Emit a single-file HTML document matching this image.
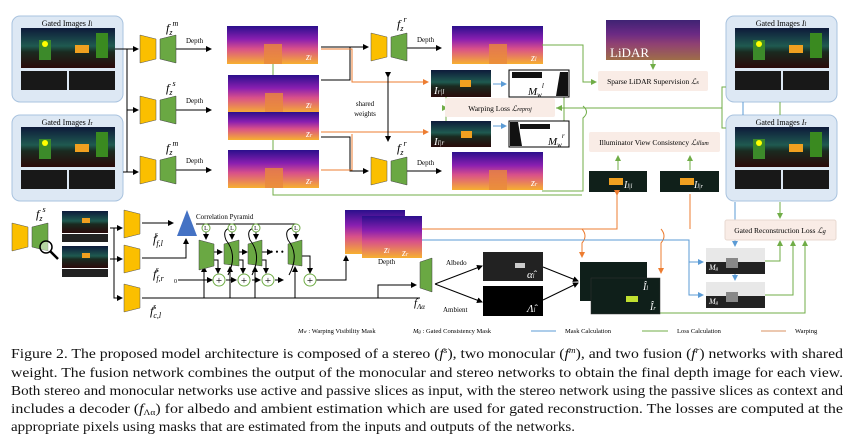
<!DOCTYPE html>
<html><head><meta charset="utf-8"><style>
html,body{margin:0;padding:0;background:#fff;}
svg{display:block;font-family:"Liberation Serif",serif;}
</style></head><body>
<svg width="854" height="444" viewBox="0 0 854 444" xmlns="http://www.w3.org/2000/svg">
<defs>
<linearGradient id="dp" x1="0" y1="0" x2="0" y2="1">
<stop offset="0" stop-color="#2b0f8c"/><stop offset="0.35" stop-color="#8a1fb0"/><stop offset="0.6" stop-color="#d8508a"/><stop offset="1" stop-color="#f7b030"/></linearGradient>
<linearGradient id="sc" x1="0" y1="0" x2="0" y2="1">
<stop offset="0" stop-color="#0d1a3a"/><stop offset="0.45" stop-color="#1f5a50"/><stop offset="0.6" stop-color="#1a2a20"/><stop offset="1" stop-color="#2a0a0a"/></linearGradient>
<marker id="ak" markerWidth="6" markerHeight="6" refX="5" refY="3" orient="auto"><path d="M0,0 L6,3 L0,6z" fill="#000"/></marker>
<marker id="ag" markerWidth="6" markerHeight="6" refX="5" refY="3" orient="auto"><path d="M0,0 L6,3 L0,6z" fill="#70ad47"/></marker>
<marker id="ab" markerWidth="6" markerHeight="6" refX="5" refY="3" orient="auto"><path d="M0,0 L6,3 L0,6z" fill="#5b9bd5"/></marker>
<marker id="ao" markerWidth="6" markerHeight="6" refX="5" refY="3" orient="auto"><path d="M0,0 L6,3 L0,6z" fill="#ed7d31"/></marker>
<g id="scene"><rect width="94" height="40" fill="url(#sc)"/><rect x="18" y="12" width="12" height="20" fill="#3c8a2a"/><circle cx="24" cy="16" r="3" fill="#ff0"/><rect x="54" y="17" width="14" height="8" fill="#f0a020"/><rect x="75" y="5" width="12" height="25" fill="#3a8a20"/></g>
<g id="small"><rect width="46" height="19" fill="#181818"/><rect x="48" width="46" height="19" fill="#181818"/></g>
<g id="gbox"><rect x="0" y="0" width="111" height="86" rx="8" fill="#dde8f4" stroke="#a9c3df"/><use href="#scene" x="9" y="12"/><use href="#small" x="9" y="55"/></g>
<g id="enc"><path d="M0,0 L16,4 L16,24 L0,28z" fill="#fbbf00" stroke="#555" stroke-width="0.5"/><path d="M20,4 L36,0 L36,28 L20,24z" fill="#6aa843" stroke="#444" stroke-width="0.5"/></g>
<g id="dmap"><rect width="91" height="38" fill="url(#dp)"/><rect x="37" y="18" width="18" height="20" fill="#e8883c" opacity=".8"/></g>
</defs>

<use href="#gbox" x="12" y="16"/><text x="67" y="26" font-size="8" text-anchor="middle">Gated Images <tspan font-style="italic">I</tspan><tspan font-size="6">l</tspan></text>
<use href="#gbox" x="12" y="115"/><text x="67" y="125" font-size="8" text-anchor="middle">Gated Images <tspan font-style="italic">I</tspan><tspan font-size="6">r</tspan></text>
<use href="#gbox" x="726" y="16"/><text x="781" y="26" font-size="8" text-anchor="middle">Gated Images <tspan font-style="italic">I</tspan><tspan font-size="6">l</tspan></text>
<use href="#gbox" x="726" y="115"/><text x="781" y="125" font-size="8" text-anchor="middle">Gated Images <tspan font-style="italic">I</tspan><tspan font-size="6">r</tspan></text>

<g stroke="#000" stroke-width="1" fill="none">
<path d="M115,49 H127 V172"/><path d="M127,49 H138" marker-end="url(#ak)"/><path d="M127,110 H138" marker-end="url(#ak)"/><path d="M123,172 H138" marker-end="url(#ak)"/>
<path d="M176,49 H211" marker-end="url(#ak)"/><path d="M176,110 H211" marker-end="url(#ak)"/><path d="M176,170 H211" marker-end="url(#ak)"/>
</g>
<use href="#enc" x="140" y="35"/><use href="#enc" x="140" y="96"/><use href="#enc" x="140" y="156"/>
<g font-size="12" font-style="italic"><text x="166" y="32">f<tspan font-size="8" dy="3">z</tspan><tspan font-size="8" dy="-9">m</tspan></text>
<text x="166" y="92">f<tspan font-size="8" dy="3">z</tspan><tspan font-size="8" dy="-9">s</tspan></text>
<text x="166" y="152">f<tspan font-size="8" dy="3">z</tspan><tspan font-size="8" dy="-9">m</tspan></text></g>
<g font-size="7"><text x="186" y="43">Depth</text><text x="186" y="103">Depth</text><text x="186" y="163">Depth</text></g>

<line x1="273" y1="64" x2="273" y2="76" stroke="#70ad47"/>
<line x1="273" y1="140" x2="273" y2="150" stroke="#70ad47"/>
<use href="#dmap" x="227" y="26"/><use href="#dmap" x="228" y="75"/><rect x="228" y="112" width="91" height="28" fill="url(#dp)"/><use href="#dmap" x="228" y="150"/>
<g fill="#fff" font-size="10" font-style="italic"><text x="306" y="60">z<tspan font-size="6">l</tspan></text><text x="306" y="108">z<tspan font-size="6">l</tspan></text><text x="306" y="137">z<tspan font-size="6">r</tspan></text><text x="306" y="184">z<tspan font-size="6">r</tspan></text></g>

<g fill="none" stroke-width="1">
<path d="M321,47 H368" stroke="#000" marker-end="url(#ak)"/><path d="M321,80 H350 V47" stroke="#000"/>
<path d="M321,49 H352 V82 H428" stroke="#ed7d31" marker-end="url(#ao)"/>
<path d="M321,132 H428" stroke="#ed7d31" marker-end="url(#ao)"/>
<path d="M321,137 H350 V171 H368" stroke="#000" marker-end="url(#ak)"/><path d="M321,170 H352 V134" stroke="#ed7d31"/>
<path d="M388,77 V141" stroke="#000" marker-end="url(#ak)" marker-start="url(#ak)"/>
<path d="M406,48 H441" stroke="#000" marker-end="url(#ak)"/><path d="M406,171 H441" stroke="#000" marker-end="url(#ak)"/>
<path d="M273,188 V195 H582" stroke="#70ad47"/>
</g>
<text x="365" y="106" font-size="7" text-anchor="middle">shared</text><text x="365" y="116" font-size="7" text-anchor="middle">weights</text>
<use href="#enc" x="371" y="33"/><use href="#enc" x="371" y="157"/>
<g font-size="12" font-style="italic"><text x="397" y="28">f<tspan font-size="8" dy="3">z</tspan><tspan font-size="8" dy="-9">r</tspan></text><text x="397" y="152">f<tspan font-size="8" dy="3">z</tspan><tspan font-size="8" dy="-9">r</tspan></text></g>
<g font-size="7"><text x="417" y="42">Depth</text><text x="417" y="165">Depth</text></g>
<use href="#dmap" x="452" y="26"/><use href="#dmap" x="452" y="152"/>
<g fill="#fff" font-size="10" font-style="italic"><text x="531" y="61">z<tspan font-size="6">l</tspan></text><text x="531" y="186">z<tspan font-size="6">r</tspan></text></g>

<g fill="none" stroke="#70ad47">
<path d="M542,45 H583 V82 H596" marker-end="url(#ag)"/>
<path d="M542,191 H583 V118 Q590,112 583,106"/>
<path d="M446,97 V121"/><path d="M446,108 H447" marker-end="url(#ag)"/>
<path d="M564,97 V121"/>
<path d="M556,108 H717"/><path d="M560,108 H557" marker-end="url(#ag)"/>
<path d="M717,108 H722 V87 H726 M722,108 V128 H726"/>
<path d="M618,170 V156" marker-end="url(#ag)"/><path d="M690,170 V156" marker-end="url(#ag)"/>
<path d="M653,60 V69" marker-end="url(#ag)"/>
<path d="M780,102 V115"/>
</g>
<line x1="743" y1="102" x2="743" y2="115" stroke="#5b9bd5"/>
<rect x="431" y="70" width="60" height="27" fill="url(#sc)"/><rect x="460" y="80" width="11" height="7" fill="#f0a020"/>
<rect x="431" y="121" width="60" height="26" fill="url(#sc)"/><rect x="461" y="131" width="11" height="7" fill="#f0a020"/>
<g font-size="11" font-style="italic" fill="#fff"><text x="434" y="94">I<tspan font-size="7">r|l</tspan></text><text x="434" y="145">I<tspan font-size="7">l|r</tspan></text></g>
<path d="M493,84 H506" stroke="#5b9bd5" marker-end="url(#ab)"/><path d="M493,126 H506" stroke="#5b9bd5" marker-end="url(#ab)"/>
<rect x="509" y="70" width="60" height="27" fill="#fff" stroke="#000"/><path d="M560,72 L568,72 L568,96 L556,96z M512,72 h30 v6 h-30z" fill="#111"/>
<rect x="509" y="121" width="60" height="26" fill="#fff" stroke="#000"/><path d="M510,122 L518,122 L522,146 L510,146z M520,124 h30 v5 h-30z" fill="#111"/>
<g font-size="11" font-style="italic"><text x="528" y="95">M<tspan font-size="7" dy="2">w</tspan><tspan font-size="7" dy="-9">l</tspan></text><text x="548" y="145">M<tspan font-size="7" dy="2">w</tspan><tspan font-size="7" dy="-9">r</tspan></text></g>
<rect x="445" y="98" width="110" height="19" rx="2" fill="#f9ece6"/>
<text x="500" y="111" font-size="7.5" text-anchor="middle">Warping Loss <tspan font-style="italic">ℒ</tspan><tspan font-size="6" font-style="italic">reproj</tspan></text>

<rect x="606" y="20" width="94" height="40" fill="url(#dp)" opacity=".85"/><rect x="606" y="20" width="94" height="40" fill="#301040" opacity=".45"/>
<text x="610" y="57" font-size="13" fill="#fff">LiDAR</text>
<rect x="598" y="71" width="110" height="20" rx="2" fill="#f9ece6"/>
<text x="653" y="84" font-size="7.5" text-anchor="middle">Sparse LiDAR Supervision <tspan font-style="italic">ℒ</tspan><tspan font-size="6" font-style="italic">s</tspan></text>
<rect x="589" y="132" width="131" height="20" rx="2" fill="#f9ece6"/>
<text x="654" y="145" font-size="7.5" text-anchor="middle">Illuminator View Consistency <tspan font-style="italic">ℒ</tspan><tspan font-size="6" font-style="italic">illum</tspan></text>
<rect x="589" y="171" width="58" height="21" fill="#10201a"/><rect x="609" y="178" width="14" height="7" fill="#f0a020"/>
<rect x="660" y="171" width="59" height="21" fill="#10201a"/><rect x="680" y="178" width="14" height="7" fill="#f0a020"/>
<g font-size="10" font-style="italic" fill="#fff"><text x="624" y="188">I<tspan font-size="6">l|l</tspan></text><text x="694" y="188">I<tspan font-size="6">l|r</tspan></text></g>

<g fill="none" stroke-width="1">
<path d="M420,229 H617 V194" stroke="#ed7d31"/><path d="M617,194 V195" stroke="#ed7d31" marker-end="url(#ao)"/>
<path d="M690,229 V194" stroke="#ed7d31"/>
<path d="M582,229 Q588,236 582,243 V257" stroke="#ed7d31" marker-end="url(#ao)"/>
<path d="M661,229 Q667,236 661,243 V273" stroke="#ed7d31" marker-end="url(#ao)"/>
<path d="M420,240 H689 V262 H703" stroke="#5b9bd5" marker-end="url(#ab)"/>
<path d="M689,262 V295 H703" stroke="#5b9bd5" marker-end="url(#ab)"/>
<path d="M735,202 V246" stroke="#5b9bd5" marker-end="url(#ab)"/>
<path d="M735,274 V280" stroke="#5b9bd5" marker-end="url(#ab)"/>
<path d="M780,202 V218" stroke="#70ad47" marker-end="url(#ag)"/>
<path d="M765,261 H780 V241" stroke="#70ad47" marker-end="url(#ag)"/>
<path d="M765,295 H793 V241" stroke="#70ad47" marker-end="url(#ag)"/>
<path d="M660,313 H805 V241" stroke="#70ad47" marker-end="url(#ag)"/>
</g>
<rect x="725" y="220" width="111" height="20" rx="2" fill="#f9ece6" stroke="#e8d8d0"/>
<text x="780" y="233" font-size="7.5" text-anchor="middle">Gated Reconstruction Loss <tspan font-style="italic">ℒ</tspan><tspan font-size="6" font-style="italic">g</tspan></text>
<rect x="706" y="248" width="59" height="26" fill="#e8e8e8"/><rect x="706" y="262" width="59" height="12" fill="#222"/><rect x="726" y="258" width="12" height="10" fill="#888"/>
<rect x="706" y="282" width="59" height="26" fill="#e8e8e8"/><rect x="706" y="296" width="59" height="12" fill="#222"/><rect x="726" y="292" width="12" height="10" fill="#888"/>
<g font-size="8" font-style="italic" fill="#fff"><text x="709" y="270">M<tspan font-size="5">g</tspan></text><text x="709" y="304">M<tspan font-size="5">g</tspan></text></g>

<use href="#enc" x="12" y="223"/>
<text x="36" y="218" font-size="12" font-style="italic">f<tspan font-size="8" dy="3">z</tspan><tspan font-size="8" dy="-9">s</tspan></text>
<circle cx="46" cy="247" r="6" fill="#fff" fill-opacity=".5" stroke="#000" stroke-width="1.5"/><line x1="50" y1="251" x2="58" y2="259" stroke="#000" stroke-width="2.5"/>
<rect x="62" y="211" width="46" height="22" fill="url(#sc)"/><rect x="82" y="218" width="8" height="5" fill="#f0a020"/><rect x="62" y="234" width="46" height="8" fill="#222"/>
<rect x="62" y="246" width="46" height="22" fill="url(#sc)"/><rect x="82" y="253" width="8" height="5" fill="#f0a020"/><rect x="62" y="269" width="46" height="8" fill="#222"/>
<g fill="none" stroke="#000">
<path d="M110,228 H114 V298 H122" marker-end="url(#ak)"/><path d="M114,228 H122" marker-end="url(#ak)"/>
<path d="M110,259 H122" marker-end="url(#ak)"/>
<path d="M142,223 H173" marker-end="url(#ak)"/><path d="M142,258 H186 V239" marker-end="url(#ak)"/>
<path d="M142,298 H420"/><path d="M378,298 V285 H416" marker-end="url(#ak)"/>
<path d="M196,224 H296 V228"/>
<path d="M178,280 H212" marker-end="url(#ak)"/><path d="M226,280 H236" marker-end="url(#ak)"/><path d="M252,280 H260" marker-end="url(#ak)"/><path d="M275,280 H283" marker-end="url(#ak)"/>
<path d="M316,280 H346 V256" marker-end="url(#ak)"/>
<path d="M204,298 V267" marker-end="url(#ak)"/><path d="M230,298 V267" marker-end="url(#ak)"/><path d="M255,298 V267" marker-end="url(#ak)"/><path d="M295,298 V267" marker-end="url(#ak)"/>
<path d="M210,252 H222" marker-end="url(#ak)"/><path d="M236,252 H247" marker-end="url(#ak)"/><path d="M260,252 H272" marker-end="url(#ak)"/>
<path d="M210,260 H218 V273" marker-end="url(#ak)"/><path d="M236,260 H243 V273" marker-end="url(#ak)"/><path d="M260,260 H266 V273" marker-end="url(#ak)"/><path d="M300,256 H310 V273" marker-end="url(#ak)"/>
<path d="M206,232 V239" marker-end="url(#ak)"/><path d="M232,232 V239" marker-end="url(#ak)"/><path d="M256,232 V239" marker-end="url(#ak)"/><path d="M296,232 V239" marker-end="url(#ak)"/>
</g>
<g fill="#fbbf00" stroke="#555" stroke-width=".5"><path d="M124,210 L140,214 L140,234 L124,238z"/><path d="M124,245 L140,249 L140,269 L124,273z"/><path d="M124,284 L140,288 L140,308 L124,312z"/></g>
<path d="M187,210 L197,236 L177,236z" fill="#4472c4"/>
<text x="196" y="219" font-size="7">Correlation Pyramid</text>
<g font-size="12" font-style="italic"><text x="153" y="243">f<tspan font-size="8" dy="3">f,l</tspan><tspan font-size="8" dy="-9" dx="-8">s</tspan></text>
<text x="153" y="278">f<tspan font-size="8" dy="3">f,r</tspan><tspan font-size="8" dy="-9" dx="-8">s</tspan></text>
<text x="150" y="315">f<tspan font-size="8" dy="3">c,l</tspan><tspan font-size="8" dy="-9" dx="-8">s</tspan></text></g>
<g fill="#6aa843" stroke="#444" stroke-width=".5"><path d="M199,240 L214,244 L214,266 L199,270z"/><path d="M224,244 L239,240 L239,266 L224,264z"/><path d="M248,244 L262,240 L262,266 L248,264z"/><path d="M288,244 L302,240 L302,266 L288,264z"/></g>
<g fill="none" stroke="#000"><path d="M228,275 Q238,255 226,240 Q222,230 230,228"/><path d="M252,275 Q262,255 250,240 Q246,230 254,228"/><path d="M289,275 Q300,255 288,240 Q284,230 292,228"/></g>
<g fill="#fff" stroke="#70ad47"><circle cx="206" cy="228" r="4"/><circle cx="232" cy="228" r="4"/><circle cx="256" cy="228" r="4"/><circle cx="296" cy="228" r="4"/>
<circle cx="219" cy="280" r="6"/><circle cx="244" cy="280" r="6"/><circle cx="268" cy="280" r="6"/><circle cx="310" cy="280" r="6"/></g>
<g font-size="6" text-anchor="middle"><text x="206" y="230">L</text><text x="232" y="230">L</text><text x="256" y="230">L</text><text x="296" y="230">L</text></g>
<g font-size="11" text-anchor="middle"><text x="219" y="284">+</text><text x="244" y="284">+</text><text x="268" y="284">+</text><text x="310" y="284">+</text></g>
<text x="270" y="255" font-size="9">• • •</text>
<text x="174" y="283" font-size="6">0</text>
<rect x="345" y="210" width="60" height="44" fill="url(#dp)"/><rect x="362" y="216" width="60" height="42" fill="url(#dp)"/>
<g fill="#fff" font-size="10" font-style="italic"><text x="384" y="253">z<tspan font-size="6">l</tspan></text><text x="402" y="256">z<tspan font-size="6">r</tspan></text></g>
<text x="378" y="264" font-size="7">Depth</text>
<path d="M420,262 L432,258 L432,292 L420,288z" fill="#6aa843" stroke="#444" stroke-width=".5"/>
<text x="414" y="306" font-size="11" font-style="italic">f<tspan font-size="7" dy="3">Λα</tspan></text>
<g stroke="#000" fill="none"><path d="M435,284 L482,266" marker-end="url(#ak)"/><path d="M435,284 L482,302" marker-end="url(#ak)"/><path d="M543,267 L578,281" marker-end="url(#ak)"/><path d="M543,300 L578,283" marker-end="url(#ak)"/></g>
<text x="446" y="265" font-size="7">Albedo</text><text x="443" y="312" font-size="7">Ambient</text>
<rect x="483" y="252" width="60" height="29" fill="#222"/><rect x="515" y="263" width="10" height="5" fill="#ccc"/>
<rect x="483" y="286" width="60" height="30" fill="#000"/>
<g font-size="11" font-style="italic" fill="#fff"><text x="527" y="278">α̂<tspan font-size="6">l</tspan></text><text x="527" y="312">Λ̂<tspan font-size="6">l</tspan></text></g>
<rect x="580" y="262" width="67" height="39" fill="#0f1f1a"/><rect x="614" y="278" width="12" height="6" fill="#c0e030"/>
<rect x="591" y="278" width="69" height="36" fill="#0f1f1a" stroke="#333" stroke-width=".5"/><rect x="626" y="296" width="12" height="6" fill="#c0e030"/>
<g font-size="10" fill="#fff" font-style="italic"><text x="643" y="290">Î<tspan font-size="6">l</tspan></text><text x="650" y="310">Î<tspan font-size="6">r</tspan></text></g>

<g font-size="6.5"><text x="298" y="333"><tspan font-style="italic">M<tspan font-size="5">w</tspan></tspan> : Warping Visibility Mask</text>
<text x="413" y="333"><tspan font-style="italic">M<tspan font-size="5">g</tspan></tspan> : Gated Consistency Mask</text>
<line x1="531" y1="331" x2="556" y2="331" stroke="#5b9bd5"/><text x="565" y="333">Mask Calculation</text>
<line x1="642" y1="331" x2="668" y2="331" stroke="#70ad47"/><text x="677" y="333">Loss Calculation</text>
<line x1="761" y1="331" x2="786" y2="331" stroke="#d99060"/><text x="795" y="333">Warping</text></g>

<g font-size="13.5" fill="#111">
<text x="11" y="358" textLength="832" lengthAdjust="spacingAndGlyphs">Figure 2. The proposed model architecture is composed of a stereo (<tspan font-style="italic">f</tspan><tspan font-size="8" dy="-5" font-style="italic">s</tspan><tspan dy="5">), two monocular (</tspan><tspan font-style="italic">f</tspan><tspan font-size="8" dy="-5" font-style="italic">m</tspan><tspan dy="5">), and two fusion (</tspan><tspan font-style="italic">f</tspan><tspan font-size="8" dy="-5" font-style="italic">r</tspan><tspan dy="5">) networks with shared</tspan></text>
<text x="11" y="377" textLength="832" lengthAdjust="spacingAndGlyphs">weight.  The fusion network combines the output of the monocular and stereo networks to obtain the final depth image for each view.</text>
<text x="11" y="395" textLength="832" lengthAdjust="spacingAndGlyphs">Both stereo and monocular networks use active and passive slices as input, with the stereo network using the passive slices as context and</text>
<text x="11" y="413" textLength="832" lengthAdjust="spacingAndGlyphs">includes a decoder (<tspan font-style="italic">f</tspan><tspan font-size="8" dy="2">Λα</tspan><tspan dy="-2">) for albedo and ambient estimation which are used for gated reconstruction.  The losses are computed at the</tspan></text>
<text x="11" y="431" textLength="564" lengthAdjust="spacingAndGlyphs">appropriate pixels using masks that are estimated from the inputs and outputs of the networks.</text>
</g>
</svg>
</body></html>
